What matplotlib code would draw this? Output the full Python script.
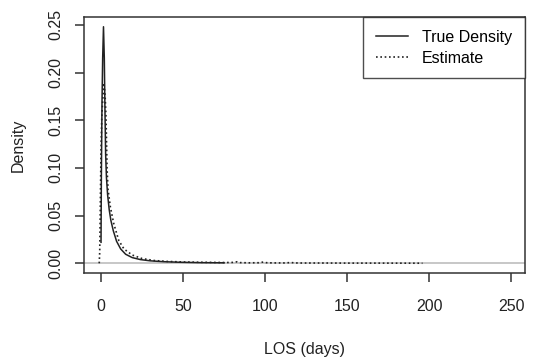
"""Recreate the LOS density comparison chart (true density vs estimate)."""

import matplotlib
matplotlib.use("Agg")
import matplotlib.pyplot as plt

plt.rcParams["font.family"] = ["Liberation Sans", "DejaVu Sans"]

# True density of length of stay (days)
true_los = [0.0, 0.2, 0.6, 1.0, 1.5, 2.0, 2.4, 2.8, 3.3, 4.0, 5.0, 6.0, 7.5,
            9.5, 12, 15, 19, 24, 30, 38, 48, 60, 75]
true_density = [0.022, 0.09, 0.17, 0.215, 0.248, 0.215, 0.16, 0.115, 0.09,
                0.072, 0.056, 0.045, 0.034, 0.023, 0.015, 0.0095, 0.006,
                0.0039, 0.0026, 0.0017, 0.0011, 0.0007, 0.0005]

# Kernel estimate
est_los = [-1.1, -0.8, -0.5, 0.0, 0.5, 1.0, 1.8, 2.5, 3.0, 3.7, 4.3, 5.7,
           7.7, 10.8, 14, 19, 25, 32, 40, 50, 60, 70, 76, 80, 83, 85, 90,
           96, 99, 101, 105, 112, 116, 118, 122, 135, 150, 170, 196]
est_density = [0.0, 0.012, 0.05, 0.12, 0.155, 0.17, 0.189, 0.175, 0.155,
               0.098, 0.077, 0.059, 0.042, 0.024, 0.015, 0.0087, 0.005,
               0.003, 0.002, 0.0014, 0.0011, 0.0009, 0.0008, 0.0009, 0.0016,
               0.0007, 0.0005, 0.0006, 0.0013, 0.0006, 0.0004, 0.0004,
               0.0008, 0.0004, 0.0003, 0.0003, 0.0002, 0.0002, 0.0001]

x_ticks = [0, 50, 100, 150, 200, 250]
y_ticks = [0.00, 0.05, 0.10, 0.15, 0.20, 0.25]

fig = plt.figure(figsize=(5.36, 3.59), dpi=100)
ax = fig.add_axes([84.3 / 536, 1 - 272.7 / 359, (525 - 84.3) / 536, (272.7 - 17.3) / 359])

ax.axhline(0, color="#bebebe", lw=1.2, zorder=1)
ax.plot(true_los, true_density, color="#222222", lw=1.1, label="True Density", zorder=3)
ax.plot(est_los, est_density, color="#222222", lw=1.2, linestyle=(0, (1, 1.6)),
        label="Estimate", zorder=4)

ax.set_xlim(-10.2, 258.5)
ax.set_ylim(-0.00985, 0.2579)
ax.set_xticks(x_ticks)
ax.set_xticklabels([str(t) for t in x_ticks])
ax.set_yticks(y_ticks)
ax.set_yticklabels([f"{t:.2f}" for t in y_ticks], rotation=90, va="center")

for side in ["left", "right", "top", "bottom"]:
    ax.spines[side].set_color("#333333")
    ax.spines[side].set_linewidth(1.1)

ax.tick_params(axis="both", direction="out", length=6.5, width=1.1,
               color="#333333", labelsize=11.5, labelcolor="#222222")
ax.tick_params(axis="x", pad=12.5)
ax.tick_params(axis="y", pad=8.5)

ax.set_xlabel("LOS (days)", fontsize=11.5, color="#222222", labelpad=20)
ax.set_ylabel("Density", fontsize=11.5, color="#222222", labelpad=16)

leg = ax.legend(loc="upper right", bbox_to_anchor=(1.0, 1.0), fontsize=11.5,
                frameon=True, fancybox=False, handlelength=2.0, handletextpad=0.9,
                borderpad=0.8, borderaxespad=0.0, labelspacing=0.35)
leg.get_frame().set_edgecolor("#222222")
leg.get_frame().set_linewidth(1.0)

fig.savefig("out.png", dpi=100)
